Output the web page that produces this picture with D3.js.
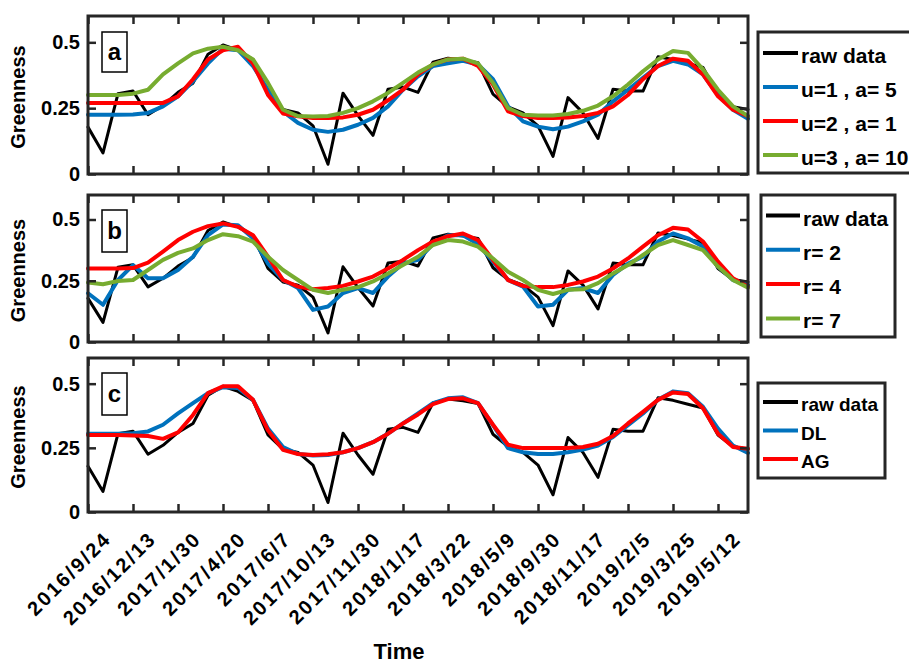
<!DOCTYPE html>
<html><head><meta charset="utf-8">
<script src="https://cdn.jsdelivr.net/npm/d3@7"></script>
<style>
body{margin:0;background:#fff}
svg{display:block}
text{font-family:"Liberation Sans",Arial,Helvetica,sans-serif;font-weight:bold;fill:#000}
</style>
</head><body>
<svg id="chart" width="909" height="664"></svg>
<script>
// ---------- data ----------
const tickIndex = [0,3,6,9,12,15,18,21,24,27,30,33,36,39,42];
const tickLabels = ["2016/9/24","2016/12/13","2017/1/30","2017/4/20","2017/6/7","2017/10/13","2017/11/30","2018/1/17","2018/3/22","2018/5/9","2018/9/30","2018/11/17","2019/2/5","2019/3/25","2019/5/12"];
const yTicks = [0, 0.25, 0.5];
const yTickLabels = ["0", "0.25", "0.5"];

const rawData = [0.178,0.080,0.305,0.315,0.225,0.260,0.310,0.345,0.455,0.490,0.470,0.435,0.300,0.245,0.232,0.183,0.037,0.307,0.222,0.147,0.322,0.330,0.310,0.425,0.440,0.433,0.423,0.303,0.255,0.232,0.183,0.067,0.290,0.232,0.135,0.322,0.315,0.315,0.445,0.435,0.420,0.405,0.300,0.255,0.245];

const aU1 = [0.225,0.225,0.225,0.226,0.232,0.257,0.295,0.352,0.420,0.476,0.470,0.410,0.320,0.238,0.194,0.168,0.160,0.168,0.187,0.213,0.257,0.320,0.371,0.410,0.420,0.430,0.416,0.360,0.257,0.200,0.180,0.170,0.180,0.200,0.225,0.276,0.320,0.365,0.410,0.430,0.416,0.378,0.300,0.244,0.210];
const aU2 = [0.270,0.270,0.270,0.270,0.270,0.270,0.295,0.360,0.435,0.470,0.483,0.420,0.300,0.230,0.219,0.213,0.213,0.215,0.225,0.244,0.280,0.320,0.378,0.416,0.435,0.438,0.410,0.340,0.238,0.220,0.213,0.213,0.215,0.220,0.232,0.257,0.300,0.360,0.410,0.438,0.430,0.378,0.295,0.244,0.220];
const aU3 = [0.300,0.300,0.300,0.305,0.320,0.378,0.420,0.458,0.476,0.483,0.470,0.435,0.346,0.244,0.220,0.218,0.220,0.232,0.250,0.276,0.308,0.346,0.385,0.416,0.435,0.438,0.420,0.346,0.250,0.225,0.222,0.222,0.228,0.240,0.260,0.295,0.340,0.390,0.435,0.467,0.460,0.397,0.320,0.257,0.220];

const bR2 = [0.199,0.152,0.253,0.314,0.260,0.260,0.294,0.348,0.436,0.480,0.477,0.423,0.320,0.253,0.220,0.131,0.145,0.200,0.220,0.200,0.267,0.320,0.335,0.400,0.436,0.436,0.400,0.328,0.253,0.226,0.145,0.152,0.213,0.220,0.200,0.274,0.320,0.348,0.410,0.443,0.423,0.390,0.308,0.253,0.233];
const bR4 = [0.300,0.300,0.300,0.302,0.324,0.369,0.416,0.450,0.473,0.484,0.470,0.436,0.348,0.253,0.226,0.215,0.220,0.229,0.247,0.267,0.300,0.335,0.375,0.410,0.432,0.443,0.416,0.335,0.253,0.229,0.224,0.224,0.233,0.247,0.267,0.300,0.341,0.389,0.436,0.466,0.459,0.410,0.328,0.260,0.226];
const bR7 = [0.243,0.236,0.249,0.253,0.294,0.335,0.364,0.382,0.416,0.440,0.432,0.410,0.348,0.294,0.253,0.213,0.200,0.213,0.224,0.247,0.280,0.314,0.348,0.396,0.416,0.410,0.389,0.341,0.287,0.253,0.213,0.196,0.213,0.215,0.240,0.280,0.314,0.355,0.396,0.416,0.396,0.375,0.308,0.253,0.222];

const cDL = [0.305,0.305,0.305,0.307,0.314,0.340,0.384,0.424,0.463,0.486,0.483,0.437,0.325,0.253,0.226,0.220,0.222,0.233,0.249,0.272,0.305,0.345,0.384,0.424,0.443,0.447,0.424,0.338,0.249,0.233,0.226,0.226,0.233,0.243,0.259,0.292,0.338,0.384,0.437,0.470,0.463,0.410,0.325,0.259,0.230];
const cAG = [0.300,0.300,0.300,0.298,0.296,0.285,0.310,0.378,0.463,0.490,0.490,0.437,0.318,0.242,0.226,0.222,0.225,0.233,0.249,0.272,0.305,0.345,0.380,0.420,0.440,0.443,0.424,0.340,0.262,0.249,0.249,0.249,0.249,0.253,0.266,0.296,0.345,0.390,0.437,0.466,0.460,0.404,0.305,0.253,0.246];

const legendA = ["raw data", "u=1 , a= 5", "u=2 , a= 1", "u=3 , a= 10"];
const legendB = ["raw data", "r= 2", "r= 4", "r= 7"];
const legendC = ["raw data", "DL", "AG"];
const panelLetters = ["a", "b", "c"];

// ---------- layout / style ----------
const colors = {raw:"#000000", blue:"#0072BD", red:"#FF0000", green:"#77AC30"};
const L = 88, R = 748;
const panels = [
  {top:16, bottom:174, letter:panelLetters[0], series:[rawData,aU1,aU2,aU3], cols:[colors.raw,colors.blue,colors.red,colors.green], names:legendA,
   leg:{x:758,y:32,w:170,h:141,row0:53,step:34,lx0:763,lx1:798,fs:21}, lab:{y0:32,y1:72}},
  {top:195, bottom:342, letter:panelLetters[1], series:[rawData,bR2,bR4,bR7], cols:[colors.raw,colors.blue,colors.red,colors.green], names:legendB,
   leg:{x:761,y:195,w:134,h:142,row0:215.5,step:34.3,lx0:766,lx1:800,fs:21}, lab:{y0:210,y1:252}},
  {top:358, bottom:512, letter:panelLetters[2], series:[rawData,cDL,cAG], cols:[colors.raw,colors.blue,colors.red], names:legendC,
   leg:{x:758,y:383,w:127,h:95,row0:402,step:28.5,lx0:763,lx1:798,fs:19}, lab:{y0:373,y1:415}}
];

const svg = d3.select("#chart");
const x = d3.scaleLinear().domain([0, rawData.length - 1]).range([L, R]);
const frameCol = "#262626";
const FONT = '"Liberation Sans",Arial,Helvetica,sans-serif';

panels.forEach((p, pi) => {
  const y = d3.scaleLinear().domain([0, 0.6]).range([p.bottom, p.top]);
  const g = svg.append("g");

  // lines
  p.series.forEach((s, si) => {
    const line = d3.line().x((d, i) => x(i)).y(d => y(d));
    g.append("path").datum(s)
      .attr("d", line)
      .attr("fill", "none")
      .attr("stroke", p.cols[si])
      .attr("stroke-width", si === 0 ? 3 : 4)
      .attr("stroke-linejoin", "round")
      .attr("stroke-linecap", "round");
  });

  // axes (ticks inward)
  const styleAxis = sel => {
    sel.select(".domain").remove();
    sel.selectAll(".tick line").attr("stroke", frameCol).attr("stroke-width", 2.5);
  };
  const bottomAx = d3.axisBottom(x).tickValues(tickIndex).tickSize(-8).tickSizeOuter(0);
  if (pi === 2) bottomAx.tickFormat((d, i) => tickLabels[i]); else bottomAx.tickFormat("");
  const bAx = g.append("g").attr("transform", `translate(0,${p.bottom})`).call(bottomAx).call(styleAxis);
  g.append("g").attr("transform", `translate(0,${p.top})`)
    .call(d3.axisTop(x).tickValues(tickIndex).tickSize(-8).tickFormat("")).call(styleAxis);
  g.append("g").attr("transform", `translate(${L},0)`)
    .call(d3.axisLeft(y).tickValues(yTicks).tickSize(-8).tickPadding(8).tickFormat((d, i) => yTickLabels[i]))
    .call(styleAxis)
    .selectAll("text").style("font-size", "20px").style("font-family", FONT).style("font-weight","bold").attr("fill","#000");
  g.append("g").attr("transform", `translate(${R},0)`)
    .call(d3.axisRight(y).tickValues(yTicks).tickSize(-8).tickFormat("")).call(styleAxis);

  if (pi === 2) {
    bAx.selectAll("text")
      .attr("transform", "translate(24,28) rotate(-45)")
      .attr("y", 0).attr("dy", "0")
      .attr("text-anchor", "end")
      .style("font-size", "20px").style("letter-spacing", "2.2px")
      .style("font-family", FONT).style("font-weight","bold").attr("fill","#000");
  }

  // frame
  g.append("rect").attr("x", L).attr("y", p.top).attr("width", R - L).attr("height", p.bottom - p.top)
    .attr("fill", "none").attr("stroke", frameCol).attr("stroke-width", 3);

  // panel letter box
  g.append("rect").attr("x", 102).attr("y", p.lab.y0).attr("width", 25).attr("height", p.lab.y1 - p.lab.y0)
    .attr("fill", "#fff").attr("stroke", "#000").attr("stroke-width", 1.5);
  g.append("text").attr("x", 114.5).attr("y", (p.lab.y0 + p.lab.y1) / 2 + 8)
    .attr("text-anchor", "middle").style("font-size", "24px").text(p.letter);

  // y label
  g.append("text").attr("transform", `translate(25,${(p.top + p.bottom) / 2 + 2}) rotate(-90)`)
    .attr("text-anchor", "middle").style("font-size", "20px").text("Greenness");

  // legend
  const lg = p.leg;
  g.append("rect").attr("x", lg.x).attr("y", lg.y).attr("width", lg.w).attr("height", lg.h)
    .attr("fill", "#fff").attr("stroke", frameCol).attr("stroke-width", 3);
  p.names.forEach((n, k) => {
    const yy = lg.row0 + k * lg.step;
    g.append("line").attr("x1", lg.lx0).attr("x2", lg.lx1).attr("y1", yy).attr("y2", yy)
      .attr("stroke", p.cols[k]).attr("stroke-width", 4);
    g.append("text").attr("x", lg.lx1 + 3).attr("y", yy).attr("dy", "0.48em")
      .style("font-size", lg.fs + "px").text(n);
  });
});

svg.append("text").attr("x", 399).attr("y", 659).attr("text-anchor", "middle")
  .style("font-size", "22px").text("Time");
</script>
</body></html>
